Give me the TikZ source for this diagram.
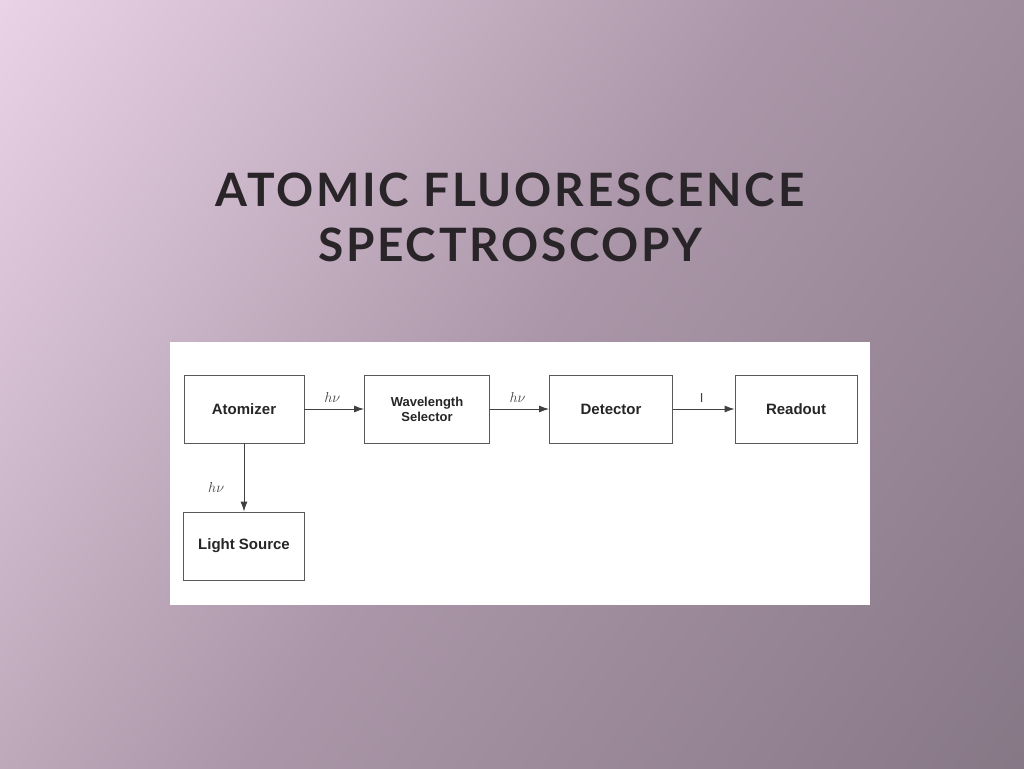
\documentclass[tikz,border=0pt]{standalone}
\usepackage{fontspec}
\usetikzlibrary{arrows.meta}
\setmainfont{Liberation Sans}
\newfontfamily\titlefont{Lato}
\begin{document}
\begin{tikzpicture}[x=1pt,y=-1pt,
  blk/.style={draw=black!65,line width=0.9pt,fill=white,minimum height=68pt,inner sep=1pt,align=center,font=\fontsize{15}{16}\selectfont\bfseries,text=black!85},
  arr/.style={-{Latex[length=10pt,width=7pt]},line width=0.9pt,draw=black!75},
  lab/.style={font=\fontsize{15}{15}\selectfont\itshape,text=black!75}]
\useasboundingbox (0,0) rectangle (1024,768);
\shade[left color={rgb,255:red,246;green,222;blue,242},right color={rgb,255:red,128;green,114;blue,128},middle color={rgb,255:red,170;green,150;blue,168},shading angle=55] (-300,-300) rectangle (1324,1068);
\node[font=\titlefont\fontsize{46}{55}\selectfont\bfseries,text={rgb,255:red,40;green,36;blue,40},align=center] (title) at (510,217) {\addfontfeature{LetterSpace=6}ATOMIC FLUORESCENCE\\\addfontfeature{LetterSpace=6}SPECTROSCOPY};
\fill[white] (170,342) rectangle (870,605);
\node[blk,minimum width=120pt] (atom) at (244,409) {Atomizer};
\node[blk,minimum width=125pt,font=\fontsize{13}{15}\selectfont\bfseries] (wave) at (427,409) {Wavelength\\Selector};
\node[blk,minimum width=123pt] (det) at (611,409) {Detector};
\node[blk,minimum width=122pt] (read) at (796,409) {Readout};
\node[blk,minimum width=121pt] (light) at (244,546) {Light Source};
\draw[arr] (atom) -- node[lab,above,yshift=3pt,xshift=-2pt]{$h\nu$} (wave);
\draw[arr] (wave) -- node[lab,above,yshift=3pt,xshift=-2pt]{$h\nu$} (det);
\draw[arr] (det) -- node[lab,above,yshift=3pt,xshift=-2pt,font=\fontsize{13}{13}\selectfont]{I} (read);
\draw[arr] (atom) -- node[lab,left,xshift=-16pt,yshift=-10pt]{$h\nu$} (light);
\end{tikzpicture}
\end{document}
